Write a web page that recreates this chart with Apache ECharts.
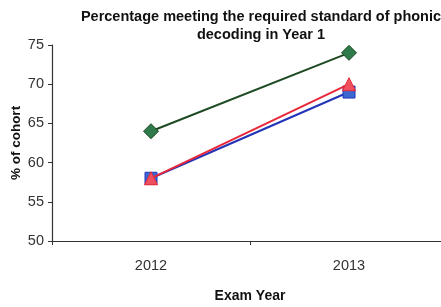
<!DOCTYPE html>
<html><head><meta charset="utf-8">
<script src="https://cdn.jsdelivr.net/npm/echarts@6/dist/echarts.min.js"></script>
<style>html,body{margin:0;padding:0;background:#fff}#c{width:441px;height:307px}</style>
</head><body><div id="c"></div>
<script>
const categories = ['2012', '2013'];
const seriesNames = ['Series A', 'Series B', 'Series C'];
const greenValues = [64, 74];
const blueValues = [58, 69];
const redValues = [58, 70];
const yTicks = [50, 55, 60, 65, 70, 75];

const chart = echarts.init(document.getElementById('c'), null, {renderer: 'canvas'});
const font = 'Liberation Sans, Arial, sans-serif';
chart.setOption({
  animation: false,
  backgroundColor: '#fff',
  title: {
    text: 'Percentage meeting the required standard of phonic\ndecoding in Year 1',
    left: 256, top: 3, textAlign: 'center',
    textStyle: {fontFamily: font, fontSize: 14.5, fontWeight: 'bold', color: '#111', lineHeight: 18}
  },
  grid: {left: 52, top: 45, width: 396, height: 196, outerBoundsMode: 'none', containLabel: false},
  xAxis: {
    type: 'category', data: categories, boundaryGap: true,
    name: 'Exam Year', nameLocation: 'middle', nameGap: 48, nameMoveOverlap: false,
    nameTextStyle: {fontFamily: font, fontSize: 14, fontWeight: 'bold', color: '#111'},
    axisLine: {lineStyle: {color: '#333', width: 1.2}},
    axisTick: {show: true, length: 4, lineStyle: {color: '#333'}},
    axisLabel: {fontFamily: font, fontSize: 14.5, color: '#333', margin: 17},
    splitLine: {show: false}
  },
  yAxis: {
    type: 'value', min: yTicks[0], max: yTicks[yTicks.length - 1], interval: 5,
    name: '% of cohort', nameLocation: 'middle', nameGap: 29, nameRotate: 90, nameMoveOverlap: false,
    nameTextStyle: {fontFamily: font, fontSize: 13.5, fontWeight: 'bold', color: '#111'},
    axisLine: {show: true, lineStyle: {color: '#333', width: 1.2}},
    axisTick: {show: true, length: 4, lineStyle: {color: '#333'}},
    axisLabel: {fontFamily: font, fontSize: 14.5, color: '#333', margin: 8},
    splitLine: {show: false}
  },
  series: [
    {name: seriesNames[0], type: 'line', data: greenValues, symbol: 'diamond', symbolSize: 15,
     lineStyle: {color: '#1d4a22', width: 2}, itemStyle: {color: '#2f7a4a', borderColor: '#1d4a22', borderWidth: 1}, z: 3},
    {name: seriesNames[1], type: 'line', data: blueValues, symbol: 'rect', symbolSize: 12,
     lineStyle: {color: '#2234b8', width: 2}, itemStyle: {color: '#3a68d0', borderColor: '#2234b8', borderWidth: 1}, z: 4},
    {name: seriesNames[2], type: 'line', data: redValues, symbol: 'triangle', symbolSize: 13,
     lineStyle: {color: '#e8283a', width: 2}, itemStyle: {color: '#f0505e', borderColor: '#e8283a', borderWidth: 1}, z: 5}
  ]
});
</script></body></html>
